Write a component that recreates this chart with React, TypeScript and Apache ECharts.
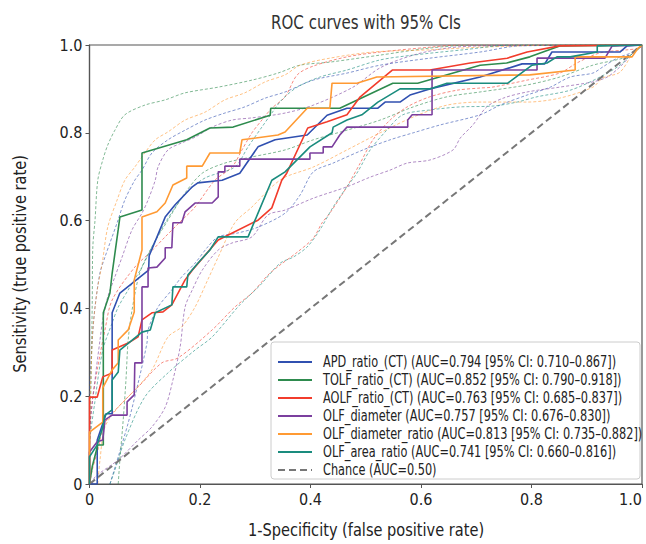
import React, { useEffect, useRef } from "react";
import * as echarts from "echarts";

// ---- tick labels ----
const xTicks = ["0", "0.2", "0.4", "0.6", "0.8", "1.0"];
const yTicks = ["0", "0.2", "0.4", "0.6", "0.8", "1.0"];

// ---- texts ----
const titleText = "ROC curves with 95% CIs";
const xName = "1-Specificity (false positive rate)";
const yName = "Sensitivity (true positive rate)";
const modelNames = [
  "APD_ratio_(CT) (AUC=0.794 [95% CI: 0.710–0.867])",
  "TOLF_ratio_(CT) (AUC=0.852 [95% CI: 0.790–0.918])",
  "AOLF_ratio_(CT) (AUC=0.763 [95% CI: 0.685–0.837])",
  "OLF_diameter (AUC=0.757 [95% CI: 0.676–0.830])",
  "OLF_diameter_ratio (AUC=0.813 [95% CI: 0.735–0.882])",
  "OLF_area_ratio (AUC=0.741 [95% CI: 0.660–0.816])",
];
const chanceName = "Chance (AUC=0.50)";
const colors = ["#3050b0", "#2e8b4e", "#f23c2c", "#7b3f9e", "#ff9a33", "#1a8c7e"];
const chanceColor = "#777777";

// ---- ROC curves [fpr, tpr] ----
const apdRatio = [
  [0, 0], [0.014, 0], [0.014, 0.1], [0.03, 0.16], [0.041, 0.16], [0.041, 0.39], [0.055, 0.435],
  [0.107, 0.487], [0.108, 0.52], [0.137, 0.608], [0.155, 0.636], [0.186, 0.677], [0.196, 0.686],
  [0.24, 0.692], [0.272, 0.708], [0.305, 0.768], [0.336, 0.784], [0.394, 0.795], [0.43, 0.84],
  [0.466, 0.856], [0.522, 0.856], [0.535, 0.87], [0.562, 0.87], [0.58, 0.886], [0.616, 0.9],
  [0.707, 0.927], [0.783, 0.957], [0.824, 0.957], [0.837, 0.984], [0.96, 0.984], [0.973, 0.998], [1, 1],
];
const tolfRatio = [
  [0, 0], [0.005, 0.04], [0.015, 0.089], [0.025, 0.089], [0.025, 0.39], [0.037, 0.435], [0.041, 0.48],
  [0.052, 0.58], [0.055, 0.608], [0.095, 0.624], [0.095, 0.754], [0.176, 0.784], [0.218, 0.811],
  [0.26, 0.813], [0.327, 0.84], [0.328, 0.856], [0.453, 0.856], [0.549, 0.913], [0.594, 0.913],
  [0.707, 0.954], [0.755, 0.959], [0.797, 0.973], [0.851, 0.998], [1, 1],
];
const aolfRatio = [
  [0, 0], [0, 0.198], [0.014, 0.198], [0.024, 0.244], [0.041, 0.253], [0.041, 0.305], [0.07, 0.321],
  [0.088, 0.335], [0.095, 0.374], [0.113, 0.39], [0.133, 0.392], [0.149, 0.408], [0.173, 0.465],
  [0.186, 0.487], [0.222, 0.54], [0.233, 0.556], [0.305, 0.601], [0.33, 0.629], [0.348, 0.692],
  [0.357, 0.708], [0.395, 0.811], [0.43, 0.825], [0.466, 0.841], [0.49, 0.882], [0.548, 0.943],
  [0.616, 0.943], [0.689, 0.959], [0.756, 0.97], [0.792, 0.984], [0.851, 0.998], [1, 1],
];
const olfDiameter = [
  [0, 0], [0, 0.073], [0.014, 0.096], [0.024, 0.1], [0.028, 0.146], [0.041, 0.157], [0.068, 0.157],
  [0.068, 0.187], [0.081, 0.203], [0.082, 0.276], [0.095, 0.276], [0.095, 0.449], [0.106, 0.449],
  [0.106, 0.492], [0.122, 0.494], [0.137, 0.515], [0.137, 0.538], [0.149, 0.538], [0.151, 0.595],
  [0.167, 0.595], [0.173, 0.62], [0.191, 0.64], [0.222, 0.64], [0.233, 0.654], [0.233, 0.711],
  [0.245, 0.711], [0.245, 0.724], [0.272, 0.724], [0.272, 0.74], [0.399, 0.74], [0.399, 0.754],
  [0.423, 0.754], [0.423, 0.768], [0.439, 0.768], [0.453, 0.795], [0.466, 0.813], [0.576, 0.813],
  [0.576, 0.829], [0.584, 0.841], [0.62, 0.841], [0.62, 0.943], [0.81, 0.943], [0.81, 0.97],
  [0.933, 0.97], [0.946, 0.998], [1, 1],
];
const olfDiameterRatio = [
  [0, 0], [0, 0.118], [0.024, 0.141], [0.024, 0.219], [0.041, 0.26], [0.052, 0.276], [0.052, 0.328],
  [0.07, 0.351], [0.081, 0.392], [0.081, 0.465], [0.095, 0.533], [0.095, 0.608], [0.122, 0.62],
  [0.137, 0.64], [0.151, 0.681], [0.176, 0.697], [0.176, 0.724], [0.204, 0.724], [0.218, 0.754],
  [0.272, 0.754], [0.276, 0.784], [0.341, 0.795], [0.354, 0.802], [0.394, 0.856], [0.435, 0.856],
  [0.439, 0.913], [0.484, 0.913], [0.52, 0.927], [0.797, 0.932], [0.879, 0.943], [0.879, 0.973],
  [0.982, 0.973], [0.993, 0.993], [1, 1],
];
const olfAreaRatio = [
  [0, 0], [0, 0.062], [0.014, 0.089], [0.024, 0.13], [0.028, 0.157], [0.041, 0.169], [0.041, 0.237],
  [0.052, 0.255], [0.055, 0.305], [0.095, 0.346], [0.11, 0.351], [0.119, 0.39], [0.149, 0.408],
  [0.151, 0.449], [0.176, 0.449], [0.178, 0.476], [0.196, 0.503], [0.218, 0.533], [0.233, 0.563],
  [0.287, 0.563], [0.305, 0.617], [0.33, 0.692], [0.354, 0.711], [0.399, 0.768], [0.439, 0.8],
  [0.441, 0.813], [0.466, 0.829], [0.493, 0.841], [0.522, 0.87], [0.562, 0.9], [0.616, 0.9],
  [0.647, 0.913], [0.757, 0.913], [0.801, 0.954], [0.828, 0.959], [0.846, 0.973], [0.87, 0.973],
  [0.919, 0.984], [0.919, 0.998], [1, 1],
];

// ---- 95% CI bands (upper / lower) ----
const apdUpper = [
  [0, 0], [0, 0.19], [0.005, 0.328], [0.01, 0.403], [0.019, 0.481], [0.028, 0.517], [0.05, 0.595],
  [0.064, 0.647], [0.082, 0.692], [0.095, 0.715], [0.113, 0.754], [0.142, 0.784], [0.173, 0.806],
  [0.209, 0.829], [0.245, 0.845], [0.281, 0.859], [0.318, 0.879], [0.354, 0.893], [0.405, 0.92],
  [0.466, 0.936], [0.526, 0.954], [0.616, 0.97], [0.707, 0.984], [0.779, 0.998], [1, 1],
];
const apdLower = [
  [0.037, 0], [0.052, 0.062], [0.07, 0.139], [0.088, 0.23], [0.104, 0.321], [0.106, 0.351],
  [0.124, 0.403], [0.149, 0.442], [0.167, 0.472], [0.191, 0.503], [0.214, 0.54], [0.233, 0.563],
  [0.269, 0.572], [0.305, 0.585], [0.354, 0.617], [0.381, 0.658], [0.405, 0.711], [0.441, 0.731],
  [0.495, 0.761], [0.544, 0.784], [0.586, 0.8], [0.635, 0.818], [0.707, 0.841], [0.743, 0.863],
  [0.792, 0.886], [0.834, 0.904], [0.87, 0.927], [0.911, 0.936], [0.929, 0.95], [0.955, 0.97],
  [0.984, 0.984], [1, 0.998],
];
const tolfUpper = [
  [0, 0], [0, 0.1], [0.003, 0.237], [0.005, 0.419], [0.006, 0.54], [0.01, 0.601], [0.015, 0.692],
  [0.024, 0.738], [0.033, 0.772], [0.046, 0.806], [0.064, 0.841], [0.1, 0.863], [0.137, 0.875],
  [0.173, 0.891], [0.233, 0.904], [0.294, 0.92], [0.341, 0.936], [0.381, 0.954], [0.435, 0.961],
  [0.526, 0.977], [0.616, 0.993], [0.694, 1], [1, 1],
];
const tolfLower = [
  [0.052, 0], [0.055, 0.055], [0.061, 0.146], [0.066, 0.237], [0.07, 0.328], [0.077, 0.396],
  [0.091, 0.481], [0.113, 0.54], [0.142, 0.601], [0.173, 0.663], [0.204, 0.708], [0.245, 0.731],
  [0.294, 0.745], [0.354, 0.761], [0.405, 0.784], [0.466, 0.806], [0.526, 0.829], [0.586, 0.859],
  [0.647, 0.882], [0.707, 0.893], [0.792, 0.909], [0.851, 0.927], [0.911, 0.954], [0.973, 0.973],
  [0.996, 0.993], [1, 1],
];
const aolfUpper = [
  [0, 0], [0, 0.1], [0.005, 0.19], [0.014, 0.26], [0.028, 0.351], [0.041, 0.419], [0.082, 0.494],
  [0.11, 0.528], [0.137, 0.563], [0.164, 0.597], [0.191, 0.631], [0.227, 0.692], [0.258, 0.722],
  [0.276, 0.761], [0.294, 0.8], [0.312, 0.829], [0.33, 0.856], [0.354, 0.882], [0.376, 0.932],
  [0.405, 0.952], [0.466, 0.973], [0.526, 0.984], [0.616, 0.995], [0.67, 1], [1, 1],
];
const aolfLower = [
  [0, 0], [0.005, 0.032], [0.015, 0.077], [0.028, 0.139], [0.064, 0.191], [0.088, 0.221],
  [0.131, 0.276], [0.16, 0.287], [0.222, 0.351], [0.263, 0.403], [0.294, 0.435], [0.323, 0.476],
  [0.345, 0.499], [0.376, 0.528], [0.405, 0.56], [0.421, 0.595], [0.435, 0.617], [0.459, 0.663],
  [0.471, 0.688], [0.49, 0.731], [0.513, 0.784], [0.544, 0.829], [0.575, 0.859], [0.616, 0.882],
  [0.665, 0.897], [0.707, 0.902], [0.729, 0.904], [0.792, 0.92], [0.851, 0.936], [0.882, 0.959],
  [0.924, 0.982], [0.973, 0.989], [0.996, 0.993], [1, 1],
];
const diamUpper = [
  [0, 0], [0, 0.1], [0.01, 0.237], [0.019, 0.328], [0.024, 0.374], [0.033, 0.426], [0.046, 0.472],
  [0.059, 0.517], [0.077, 0.579], [0.095, 0.617], [0.106, 0.647], [0.119, 0.692], [0.124, 0.722],
  [0.142, 0.761], [0.167, 0.777], [0.191, 0.79], [0.222, 0.813], [0.258, 0.829], [0.294, 0.834],
  [0.354, 0.845], [0.405, 0.863], [0.477, 0.904], [0.526, 0.948], [0.586, 0.977], [0.647, 0.993],
  [0.707, 0.998], [1, 1],
];
const diamLower = [
  [0.005, 0], [0.01, 0.016], [0.052, 0.055], [0.088, 0.1], [0.113, 0.13], [0.137, 0.175],
  [0.151, 0.237], [0.164, 0.312], [0.173, 0.403], [0.186, 0.442], [0.204, 0.487], [0.233, 0.533],
  [0.258, 0.549], [0.294, 0.563], [0.323, 0.613], [0.354, 0.624], [0.405, 0.651], [0.466, 0.677],
  [0.508, 0.699], [0.544, 0.715], [0.575, 0.731], [0.616, 0.738], [0.658, 0.761], [0.671, 0.788],
  [0.694, 0.818], [0.719, 0.859], [0.749, 0.879], [0.792, 0.893], [0.851, 0.904], [0.911, 0.916],
  [0.937, 0.927], [0.96, 0.95], [0.984, 0.982], [1, 0.998],
];
const diamRatioUpper = [
  [0, 0], [0, 0.146], [0.003, 0.26], [0.006, 0.351], [0.014, 0.442], [0.023, 0.503], [0.033, 0.585],
  [0.05, 0.647], [0.064, 0.692], [0.082, 0.722], [0.1, 0.754], [0.119, 0.784], [0.142, 0.802],
  [0.173, 0.829], [0.209, 0.847], [0.245, 0.875], [0.281, 0.891], [0.318, 0.916], [0.354, 0.932],
  [0.381, 0.954], [0.435, 0.97], [0.513, 0.984], [0.616, 0.989], [0.707, 0.995], [0.851, 1], [1, 1],
];
const diamRatioLower = [
  [0.015, 0], [0.019, 0.055], [0.028, 0.13], [0.052, 0.175], [0.082, 0.214], [0.113, 0.26],
  [0.142, 0.335], [0.167, 0.358], [0.191, 0.403], [0.214, 0.465], [0.233, 0.517], [0.263, 0.595],
  [0.294, 0.631], [0.33, 0.677], [0.354, 0.699], [0.405, 0.722], [0.466, 0.761], [0.526, 0.8],
  [0.586, 0.836], [0.647, 0.863], [0.707, 0.87], [0.792, 0.87], [0.851, 0.879], [0.911, 0.904],
  [0.929, 0.925], [0.96, 0.938], [0.984, 0.982], [1, 0.998],
];
const areaUpper = [
  [0, 0], [0, 0.077], [0.01, 0.19], [0.024, 0.305], [0.041, 0.367], [0.052, 0.403], [0.07, 0.442],
  [0.095, 0.494], [0.113, 0.54], [0.137, 0.595], [0.173, 0.66], [0.209, 0.697], [0.263, 0.722],
  [0.287, 0.768], [0.312, 0.813], [0.33, 0.845], [0.348, 0.875], [0.376, 0.904], [0.417, 0.927],
  [0.466, 0.943], [0.526, 0.966], [0.586, 0.977], [0.676, 0.989], [0.767, 1], [1, 1],
];
const areaLower = [
  [0.037, 0], [0.046, 0.032], [0.064, 0.1], [0.1, 0.198], [0.142, 0.253], [0.191, 0.305],
  [0.222, 0.335], [0.272, 0.408], [0.309, 0.453], [0.345, 0.503], [0.369, 0.517], [0.394, 0.54],
  [0.417, 0.579], [0.441, 0.631], [0.466, 0.677], [0.484, 0.708], [0.508, 0.761], [0.538, 0.806],
  [0.567, 0.841], [0.616, 0.852], [0.671, 0.859], [0.731, 0.861], [0.774, 0.87], [0.81, 0.882],
  [0.87, 0.897], [0.924, 0.927], [0.96, 0.954], [0.984, 0.982], [1, 0.998],
];
const chanceLine = [[0, 0], [1, 1]];

const FONT = "'DejaVu Sans Condensed', 'DejaVu Sans', sans-serif";

export default function App() {
  const ref = useRef<HTMLDivElement>(null);
  useEffect(() => {
    if (!ref.current) return;
    const chart = echarts.init(ref.current, null, { renderer: "svg" });
    const mains = [apdRatio, tolfRatio, aolfRatio, olfDiameter, olfDiameterRatio, olfAreaRatio];
    const uppers = [apdUpper, tolfUpper, aolfUpper, diamUpper, diamRatioUpper, areaUpper];
    const lowers = [apdLower, tolfLower, aolfLower, diamLower, diamRatioLower, areaLower];
    const series: any[] = [];
    mains.forEach((_, i) => {
      [uppers[i], lowers[i]].forEach((d, k) => {
        series.push({
          type: "line",
          name: "ci_" + i + "_" + k,
          data: d,
          showSymbol: false,
          smooth: 0.3,
          silent: true,
          color: colors[i],
          lineStyle: { width: 1, type: [3, 2], color: colors[i], opacity: 0.6 },
          z: 2,
        });
      });
    });
    series.push({
      type: "line",
      name: chanceName,
      data: chanceLine,
      showSymbol: false,
      color: chanceColor,
      lineStyle: { width: 2, type: [7, 4], color: chanceColor },
      z: 3,
    });
    mains.forEach((d, i) => {
      series.push({
        type: "line",
        name: modelNames[i],
        data: d,
        showSymbol: false,
        color: colors[i],
        lineStyle: { width: 1.6, color: colors[i] },
        z: 4,
      });
    });

    // legend drawn as a matplotlib-like box
    const legendNames = [...modelNames, chanceName];
    const legendColors = [...colors, chanceColor];
    const rowY0 = 362;
    const rowStep = 18;
    const legendChildren: any[] = [
      {
        type: "rect",
        shape: { x: 271, y: 342, width: 369, height: 137, r: 3 },
        style: { fill: "#ffffff", stroke: "#cccccc", lineWidth: 1 },
      },
    ];
    legendNames.forEach((n, i) => {
      const y = rowY0 + i * rowStep;
      const isChance = i === legendNames.length - 1;
      legendChildren.push({
        type: "line",
        shape: { x1: 278, y1: y, x2: 312, y2: y },
        style: {
          stroke: legendColors[i],
          lineWidth: 2,
          lineDash: isChance ? [7, 4] : null,
        },
      });
      legendChildren.push({
        type: "text",
        x: 323,
        y: y,
        scaleX: 0.84,
        style: {
          text: n,
          fontFamily: FONT,
          fontSize: 15,
          fill: "#222",
          textVerticalAlign: "middle",
          textAlign: "left",
        },
      });
    });

    const axisCommon = {
      type: "value",
      min: 0,
      max: 1,
      interval: 0.2,
      splitLine: { show: false },
      axisLine: { show: true, onZero: false, lineStyle: { color: "#555", width: 1.2 } },
      axisTick: { show: true, length: 4, lineStyle: { color: "#555" } },
    };
    chart.setOption({
      animation: false,
      backgroundColor: "#ffffff",
      grid: {
        left: 89.5, right: 4, top: 45, bottom: 60,
        containLabel: false,
        outerBoundsMode: "none",
        show: true, borderColor: "#555", borderWidth: 1.2,
      },
      graphic: [
        {
          type: "text",
          x: 366,
          y: 22,
          scaleX: 0.88,
          style: {
            text: titleText,
            fontFamily: FONT,
            fontSize: 19,
            fill: "#333",
            textAlign: "center",
            textVerticalAlign: "middle",
          },
        },
        {
          type: "text",
          x: 366,
          y: 530,
          scaleX: 0.9,
          style: {
            text: xName,
            fontFamily: FONT,
            fontSize: 18,
            fill: "#222",
            textAlign: "center",
            textVerticalAlign: "middle",
          },
        },
        {
          type: "text",
          x: 20,
          y: 264,
          rotation: Math.PI / 2,
          scaleX: 0.9,
          style: {
            text: yName,
            fontFamily: FONT,
            fontSize: 18,
            fill: "#222",
            textAlign: "center",
            textVerticalAlign: "middle",
          },
        },
        { type: "group", z: 100, children: legendChildren },
      ],
      xAxis: {
        ...axisCommon,
        axisLabel: {
          fontFamily: FONT, fontSize: 16, color: "#222", margin: 7,
          alignMaxLabel: "right",
          formatter: (v: number) => xTicks[Math.round(v * 5)],
        },
      },
      yAxis: {
        ...axisCommon,
        axisLabel: {
          fontFamily: FONT, fontSize: 16, color: "#222", margin: 7,
          formatter: (v: number) => yTicks[Math.round(v * 5)],
        },
      },
      series,
    });
    return () => chart.dispose();
  }, []);
  return (
    <div
      ref={ref}
      style={{ position: "absolute", left: 0, top: 0, width: 646, height: 544 }}
    />
  );
}
